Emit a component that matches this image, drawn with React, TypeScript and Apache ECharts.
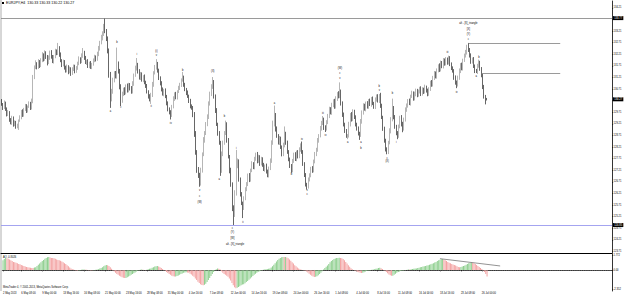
import React, { useEffect, useRef } from "react";
import * as echarts from "echarts";

// ---- data (prices in hundredths of a yen) ----
const FIRST_OPEN = 13020;
const CLOSES = [
  13005,12990,13012,12985,12960,12972,12940,12925,12948,12918,
  12930,12908,12915,12935,12950,12975,12958,12985,13000,12978,
  12995,13010,12990,13020,13120,13165,13180,13165,13190,13172,
  13195,13218,13200,13228,13210,13185,13205,13230,13212,13190,
  13210,13235,13225,13250,13220,13195,13175,13190,13165,13150,
  13168,13145,13160,13140,13155,13170,13148,13162,13180,13200,
  13190,13215,13230,13205,13185,13192,13170,13182,13165,13178,
  13195,13210,13200,13222,13245,13270,13290,13310,13340,13320,
  13290,13240,13130,13030,13060,13110,13140,13125,13180,13150,
  13080,13020,13050,13070,13055,13085,13065,13090,13075,13060,
  13095,13130,13160,13175,13150,13120,13135,13110,13125,13100,
  13085,13060,13040,13025,13045,13090,13140,13165,13180,13150,
  13120,13095,13070,13050,13065,13040,13010,12985,12970,12960,
  12995,13030,13050,13035,13060,13075,13090,13110,13120,13090,
  13070,13055,13040,13020,13000,12990,12960,12880,12800,12720,
  12700,12665,12720,12790,12850,12880,12920,12950,13010,13050,
  13080,13100,13040,12980,12920,12880,12840,12720,12790,12840,
  12880,12920,12850,12780,12720,12660,12560,12530,12620,12740,
  12760,12680,12620,12580,12560,12600,12640,12660,12700,12680,
  12720,12750,12735,12770,12790,12760,12780,12750,12770,12745,
  12725,12740,12715,12700,12730,12760,12840,12920,12960,12900,
  12870,12840,12860,12820,12790,12830,12880,12840,12800,12770,
  12740,12720,12760,12790,12770,12800,12780,12810,12830,12800,
  12750,12700,12660,12650,12680,12700,12730,12720,12760,12790,
  12810,12850,12870,12900,12925,12940,12905,12900,12930,12955,
  12985,12970,13000,13020,12995,13030,13050,13040,13060,13010,
  12960,12920,12890,12870,12870,12920,12960,12940,12975,12950,
  12920,12900,12880,12875,12930,12970,13000,12985,13010,12995,
  13020,13005,13030,13010,12995,13025,13040,13020,13045,13000,
  12950,12900,12850,12810,12800,12840,12890,12940,12990,12950,
  12910,12880,12870,12910,12950,12920,12900,12940,12980,13000,
  13020,13010,13040,13055,13030,13050,13065,13045,13060,13075,
  13050,13070,13060,13080,13065,13050,13070,13100,13090,13120,
  13140,13125,13150,13170,13155,13185,13170,13195,13180,13200,
  13185,13205,13180,13160,13150,13120,13100,13090,13120,13150,
  13175,13160,13195,13215,13230,13250,13240,13215,13190,13200,
  13170,13150,13145,13170,13185,13160,13130,13080,13040,13033,13027,
];
const UPPER_WICKS = [
  8,6,10,5,7,9,4,6,8,5, 6,4,7,5,8,6,9,5,7,6, 5,8,6,10,12,8,15,7,10,6,
  9,12,7,10,6,8,11,7,9,6, 8,10,7,20,6,9,5,8,6,7, 9,6,8,5,10,7,6,8,9,12,
  8,10,18,6,9,5,8,7,10,6, 8,9,6,10,12,9,15,10,12,37, 10,8,6,15,12,10,8,9,70,10,
  8,12,10,7,9,6,10,8,7,9, 10,8,12,30,9,7,10,8,6,9, 7,8,6,9,10,12,8,10,20,8,
  9,6,10,8,7,9,6,8,7,10, 8,10,7,9,6,10,8,7,25,9, 8,6,10,7,9,5,8,12,10,8,
  15,10,12,8,14,10,9,12,8,10, 12,23,10,8,9,6,10,8,12,9, 10,15,8,10,7,12,9,10,15,69,
  12,8,10,7,6,9,8,10,7,9, 8,10,6,9,7,10,8,6,9,7, 8,6,10,9,7,12,10,15,40,8,
  10,7,9,6,8,10,30,7,9,8, 6,8,10,7,9,6,8,10,7,15, 8,6,9,7,10,8,6,9,7,10,
  8,10,7,12,9,15,8,10,7,9, 10,8,12,7,9,10,8,12,40,9, 8,10,6,9,7,10,8,12,9,7,
  8,6,10,7,12,9,10,8,7,9, 8,10,7,9,6,10,8,9,5,10, 8,6,9,7,10,8,12,10,40,8,
  9,7,10,8,6,9,10,8,12,9, 8,10,7,9,6,10,8,7,9,6, 8,9,7,10,6,8,9,7,10,8,
  9,7,10,8,12,9,7,10,8,9, 7,10,8,6,9,7,10,8,9,10, 8,10,7,9,10,12,20,8,10,7,
  9,7,8,10,13,8,6,7,9,6,0,
];
const LOWER_WICKS = [
  6,9,5,8,7,5,10,6,8,9, 7,8,6,20,5,9,7,6,8,10, 8,5,9,7,10,6,8,9,7,10,
  6,8,10,7,9,12,6,8,10,7, 9,6,8,7,10,8,9,6,10,8, 7,10,6,12,8,6,9,7,8,6,
  10,7,9,8,6,10,8,9,7,8, 6,8,10,7,9,8,6,9,10,8, 12,15,10,40,12,9,10,8,9,12,
  10,22,8,9,10,7,9,8,10,9, 8,10,6,9,12,8,10,7,9,8, 9,8,10,7,18,8,9,6,10,8,
  10,8,9,7,10,8,9,10,8,20, 9,7,10,8,9,6,8,10,7,9, 8,10,7,9,12,8,10,15,12,10,
  12,15,10,9,8,10,7,9,8,10, 9,8,10,12,8,10,9,23,10,8, 9,7,10,8,12,10,15,45,10,8,
  10,8,12,9,45,10,8,9,7,10, 8,7,9,10,8,9,7,10,8,9, 7,10,8,9,10,8,7,9,10,12,
  9,8,10,7,9,8,10,9,8,10, 9,10,8,7,9,10,8,7,9,8, 10,8,9,12,8,7,9,10,8,9,
  8,9,10,7,8,9,10,14,8,10, 9,8,10,7,9,8,10,9,8,10, 9,10,8,9,15,8,10,9,7,8,
  10,8,9,23,10,8,9,7,10,8, 9,7,10,8,9,10,8,7,9,10, 8,9,10,8,10,9,7,10,8,9,
  10,8,15,9,8,10,15,8,9,7, 9,8,10,7,9,8,10,9,7,8, 9,7,10,8,9,10,8,7,9,8,
  10,8,9,7,10,8,9,10,8,7, 9,8,10,7,8,9,10,15,8,9, 10,8,9,7,8,10,9,8,10,9,
  8,10,5,9,7,10,8,9,10,28,5,
];
const AO_VALUES = [
  1.2,1.35,1.48,1.45,1.38,1.3,1.2,1.1,1.0,0.95,
  0.9,0.82,0.75,0.7,0.62,0.55,0.5,0.42,0.38,0.33,
  0.3,0.28,0.25,0.24,0.3,0.35,0.5,0.65,0.8,0.95,
  1.1,1.25,1.4,1.5,1.57,1.6,1.55,1.5,1.48,1.45,
  1.38,1.3,1.25,1.2,1.15,1.05,0.95,0.85,0.75,0.6,
  0.45,0.3,0.2,0.1,0.05,-0.02,-0.05,-0.08,-0.05,-0.03,
  0.02,0.05,0.06,0.04,0.02,-0.02,-0.04,-0.05,-0.06,-0.04,
  -0.02,0.02,0.05,0.1,0.18,0.25,0.35,0.45,0.55,0.62,
  0.6,0.5,0.35,0.15,-0.05,-0.2,-0.35,-0.5,-0.6,-0.7,
  -0.8,-0.9,-0.95,-1.0,-0.98,-0.9,-0.8,-0.7,-0.6,-0.5,
  -0.4,-0.3,-0.2,-0.1,-0.05,0.02,0.05,0.03,0.0,-0.02,
  0.02,0.08,0.15,0.2,0.28,0.35,0.42,0.45,0.48,0.42,
  0.35,0.25,0.12,0.0,-0.12,-0.25,-0.38,-0.5,-0.6,-0.7,
  -0.78,-0.82,-0.8,-0.75,-0.68,-0.6,-0.5,-0.42,-0.35,-0.3,
  -0.28,-0.3,-0.35,-0.45,-0.55,-0.7,-0.85,-1.05,-1.25,-1.45,
  -1.6,-1.75,-1.85,-1.88,-1.82,-1.7,-1.5,-1.25,-1.0,-0.75,
  -0.5,-0.25,-0.05,0.1,0.2,0.15,0.05,-0.15,-0.35,-0.5,
  -0.6,-0.7,-0.85,-1.05,-1.3,-1.6,-1.9,-2.15,-2.25,-2.2,
  -2.1,-2.0,-1.9,-1.8,-1.75,-1.65,-1.5,-1.35,-1.2,-1.05,
  -0.9,-0.75,-0.6,-0.45,-0.35,-0.25,-0.15,-0.1,-0.05,0.02,
  0.05,0.08,0.12,0.15,0.2,0.3,0.45,0.65,0.85,1.05,
  1.25,1.4,1.5,1.58,1.62,1.6,1.62,1.55,1.45,1.3,
  1.15,0.95,0.8,0.6,0.45,0.3,0.18,0.08,0.02,0.0,
  -0.05,-0.1,-0.18,-0.3,-0.45,-0.6,-0.72,-0.82,-0.87,-0.85,
  -0.78,-0.65,-0.5,-0.35,-0.15,0.05,0.25,0.4,0.55,0.75,
  0.95,1.1,1.25,1.35,1.42,1.48,1.5,1.52,1.5,1.45,
  1.35,1.2,1.0,0.8,0.6,0.4,0.22,0.1,0.0,-0.08,
  -0.15,-0.22,-0.28,-0.35,-0.37,-0.33,-0.28,-0.2,-0.12,-0.08,
  -0.05,-0.02,0.02,0.06,0.1,0.15,0.2,0.25,0.27,0.22,
  0.12,0.0,-0.12,-0.25,-0.4,-0.55,-0.65,-0.72,-0.7,-0.6,
  -0.48,-0.35,-0.25,-0.18,-0.12,-0.08,-0.05,-0.03,0.0,0.03,
  0.06,0.05,0.08,0.12,0.15,0.18,0.2,0.24,0.28,0.33,
  0.38,0.42,0.45,0.5,0.55,0.6,0.66,0.72,0.78,0.85,
  0.92,1.0,1.1,1.2,1.28,1.34,1.36,1.3,1.2,1.1,
  1.0,0.9,0.82,0.75,0.68,0.62,0.55,0.45,0.38,0.35,
  0.38,0.42,0.48,0.55,0.65,0.75,0.85,0.9,0.93,0.9,
  0.85,0.75,0.62,0.5,0.38,0.25,0.12,-0.05,-0.25,-0.5,-0.8,
];

const TOTAL_SLOTS = 466;
const PRICE_TICKS = [
  123.71,124.21,124.71,125.21,125.71,126.21,126.71,127.21,127.71,128.21,128.71,
  129.21,129.71,130.21,130.71,131.21,131.71,132.21,132.71,133.21,133.71,134.21,
];
const AO_TICKS = [1.772, 0, -2.352];
const AO_TICK_LABELS = ["1.772", "0.00", "-2.352"];
const MAY_HIGH = 133.77;
const JUNE_LOW = 124.85;
const LAST_PRICE = 130.27;
const UPPER_SEGMENT: [number, number, number] = [356, 426, 132.7];
const LOWER_SEGMENT: [number, number, number] = [366, 426, 131.4];
const AO_TREND: [number, number, number, number] = [334, 1.4, 380, 0.5];

const WAVE_LABELS: [string, number, number][] = [
  ["a", 83, 129.75], ["b", 88, 132.7], ["c", 91, 129.9], ["i", 103, 132.22],
  ["ii", 114, 129.98], ["(i)", 118, 132.35], ["v", 118, 132.14], ["iv", 129, 129.25],
  ["b", 138, 131.53], ["v", 151, 126.36], ["c", 151, 126.1], ["(W)", 151, 125.84],
  ["(X)", 161, 131.45], ["a", 166, 126.83], ["b", 170, 129.55],
  ["c", 176, 124.72], ["(Y)", 176, 124.51], ["[W]", 176, 124.29],
  ["alt - [X]_triangle", 178, 124.03], ["i", 179, 128.17], ["ii", 184, 124.98],
  ["a", 208, 130.11], ["b", 221, 127.05], ["iv", 229, 128.52],
  ["v", 233, 126.36], ["c", 233, 126.15], ["iii", 245, 129.68], ["iv", 247, 128.73],
  ["(W)", 258, 131.62], ["c", 258, 131.4], ["v", 258, 131.19],
  ["a", 264, 128.39], ["a", 274, 128.39], ["b", 274, 128.17],
  ["b", 288, 130.84], ["v", 288, 130.63], ["c", 294, 127.74], ["(X)", 294, 127.57],
  ["b", 298, 130.54], ["i", 301, 128.39], ["iii", 340, 132.31], ["iv", 347, 130.58],
  ["alt - [X]_triangle", 356, 133.52], ["[X]", 356, 133.3], ["(Y)", 356, 133.08],
  ["c", 356, 132.87], ["a", 362, 131.27], ["b", 364, 132.09],
];

const TITLE = "EURJPY,H4  130.33 130.33 130.22 130.27";
const AO_TITLE = "AO -0.8026";
const COPYRIGHT = "MetaTrader 4, \u00a9 2001-2013, MetaQuotes Software Corp.";
const MONTHS = ["Jan","Feb","Mar","Apr","May","Jun","Jul","Aug","Sep","Oct","Nov","Dec"];
const START_UTC = Date.UTC(2013, 4, 2, 0, 0);

const pad2 = (n: number) => (n < 10 ? "0" + n : "" + n);

function buildCategories(): string[] {
  const out: string[] = [];
  let t = START_UTC;
  while (out.length < CLOSES.length) {
    const d = new Date(t);
    const wd = d.getUTCDay();
    if (wd !== 0 && wd !== 6) {
      if (out.length === 0) out.push(`${d.getUTCDate()} ${MONTHS[d.getUTCMonth()]} ${d.getUTCFullYear()}`);
      else out.push(`${d.getUTCDate()} ${MONTHS[d.getUTCMonth()]} ${pad2(d.getUTCHours())}:00`);
    }
    t += 4 * 3600 * 1000;
  }
  while (out.length < TOTAL_SLOTS) out.push(" ");
  return out;
}
const CATEGORIES = buildCategories();

const FONT = "Liberation Sans, Arial, sans-serif";
const SMALL = 2.6;

export default function App() {
  const ref = useRef<HTMLDivElement>(null);
  useEffect(() => {
    document.body.style.margin = "0";
    if (!ref.current) return;
    const chart = echarts.init(ref.current, undefined, { renderer: "svg" });

    const candles = CLOSES.map((c, i) => {
      const o = i === 0 ? FIRST_OPEN : CLOSES[i - 1];
      const h = Math.max(o, c) + UPPER_WICKS[i];
      const l = Math.min(o, c) - LOWER_WICKS[i];
      return [o / 100, c / 100, l / 100, h / 100];
    });
    const ao = AO_VALUES.map((v, i) => ({
      value: v,
      itemStyle: { color: i === 0 || v > AO_VALUES[i - 1] ? "#8fcf8f" : "#f3a3a3" },
    }));
    const showLabel = (idx: number) =>
      idx === 0 || (idx >= 14 && idx <= 366 && (idx - 14) % 16 === 0);

    const box = (txt: string) => ({
      show: true,
      position: "end",
      formatter: txt,
      color: "#fff",
      backgroundColor: "#000",
      padding: [0.6, 1.2, 0.4, 1.2],
      fontSize: SMALL,
      fontFamily: FONT,
      distance: 1,
    });

    chart.setOption({
      animation: false,
      backgroundColor: "#fff",
      grid: [
        { left: 1, right: 13, top: 1, bottom: 44 },
        { left: 1, right: 13, top: 254, bottom: 6 },
      ],
      xAxis: [
        {
          type: "category", gridIndex: 0, data: CATEGORIES, boundaryGap: true,
          axisLine: { show: true, lineStyle: { color: "#000", width: 1.2 } },
          axisTick: { show: false }, axisLabel: { show: false }, splitLine: { show: false },
        },
        {
          type: "category", gridIndex: 1, data: CATEGORIES, boundaryGap: true,
          axisLine: { show: true, lineStyle: { color: "#000", width: 0.8 } },
          axisTick: { show: true, interval: (i: number) => showLabel(i), alignWithLabel: true, length: 1.5, lineStyle: { color: "#000", width: 0.5 } },
          axisLabel: {
            show: true, interval: (i: number) => showLabel(i), align: "left", margin: 1.2,
            fontSize: SMALL, fontFamily: FONT, color: "#000", hideOverlap: false,
          },
          splitLine: { show: false },
        },
      ],
      yAxis: [
        {
          type: "value", gridIndex: 0, position: "right", min: 123.645, max: 134.507,
          axisLine: { show: true, lineStyle: { color: "#000", width: 0.8 } },
          axisTick: { show: true, customValues: PRICE_TICKS, length: 1.2, lineStyle: { color: "#000", width: 0.5 } },
          axisLabel: {
            show: true, customValues: PRICE_TICKS, formatter: (v: number) => v.toFixed(2),
            fontSize: SMALL, fontFamily: FONT, color: "#000", margin: 1.5,
          },
          splitLine: { show: false },
        },
        {
          type: "value", gridIndex: 1, position: "right", min: -2.6, max: 1.98,
          axisLine: { show: true, lineStyle: { color: "#000", width: 0.8 } },
          axisTick: { show: true, customValues: AO_TICKS, length: 1.2, lineStyle: { color: "#000", width: 0.5 } },
          axisLabel: {
            show: true, customValues: AO_TICKS,
            formatter: (v: number) => {
              const k = AO_TICKS.findIndex((t) => Math.abs(t - v) < 1e-6);
              return k >= 0 ? AO_TICK_LABELS[k] : v.toFixed(2);
            },
            fontSize: SMALL, fontFamily: FONT, color: "#000", margin: 1.5,
          },
          splitLine: { show: false },
        },
      ],
      graphic: [
        { type: "line", shape: { x1: 1, y1: 0, x2: 1, y2: 291 }, style: { stroke: "#9a9a9a", lineWidth: 0.8 } },
        { type: "rect", shape: { x: 2, y: 2, width: 2, height: 2 }, style: { fill: "#000" } },
        { type: "text", left: 6, top: 1, style: { text: TITLE, fontSize: 3.6, fontFamily: FONT, fill: "#000" } },
        { type: "text", left: 3, top: 255.5, style: { text: AO_TITLE, fontSize: SMALL, fontFamily: FONT, fill: "#000" } },
        { type: "text", left: 3, top: 286.3, style: { text: COPYRIGHT, fontSize: SMALL, fontFamily: FONT, fill: "#000" } },
      ],
      series: [
        {
          type: "candlestick",
          xAxisIndex: 0, yAxisIndex: 0,
          data: candles,
          barWidth: 1,
          itemStyle: {
            color: "#d2d2d2", color0: "#000000",
            borderColor: "#858585", borderColor0: "#000000", borderWidth: 0.6,
          },
          markLine: {
            silent: true, symbol: ["none", "none"],
            label: { show: false },
            data: [
              { yAxis: MAY_HIGH, lineStyle: { color: "#808080", width: 0.8, type: "solid" }, label: box(MAY_HIGH.toFixed(2)) },
              { yAxis: JUNE_LOW, lineStyle: { color: "#9a9aee", width: 0.9, type: "solid" }, label: box(JUNE_LOW.toFixed(2)) },
              { yAxis: LAST_PRICE, lineStyle: { color: "rgba(255,255,255,0)", width: 0.1 }, label: box(LAST_PRICE.toFixed(2)) },
              [
                { coord: [UPPER_SEGMENT[0], UPPER_SEGMENT[2]], lineStyle: { color: "#808080", width: 0.8, type: "solid" } },
                { coord: [UPPER_SEGMENT[1], UPPER_SEGMENT[2]] },
              ],
              [
                { coord: [LOWER_SEGMENT[0], LOWER_SEGMENT[2]], lineStyle: { color: "#808080", width: 0.8, type: "solid" } },
                { coord: [LOWER_SEGMENT[1], LOWER_SEGMENT[2]] },
              ],
            ],
          },
          markPoint: {
            silent: true,
            data: WAVE_LABELS.map(([t, i, p]) => ({
              coord: [i, p], symbol: "circle", symbolSize: 0,
              label: { show: true, position: "inside", formatter: t, fontSize: SMALL, fontFamily: FONT, color: "#000" },
            })),
          },
        },
        {
          type: "bar",
          xAxisIndex: 1, yAxisIndex: 1,
          data: ao,
          barWidth: 1,
          markLine: {
            silent: true, symbol: ["none", "none"],
            label: { show: false },
            data: [
              { yAxis: 0, lineStyle: { color: "#777", width: 0.7, type: [1, 1.2] } },
              [
                { coord: [AO_TREND[0], AO_TREND[1]], lineStyle: { color: "#777", width: 0.8, type: "solid" } },
                { coord: [AO_TREND[2], AO_TREND[3]] },
              ],
            ],
          },
        },
      ],
    });
    return () => chart.dispose();
  }, []);
  return <div ref={ref} style={{ width: 625, height: 297 }} />;
}
